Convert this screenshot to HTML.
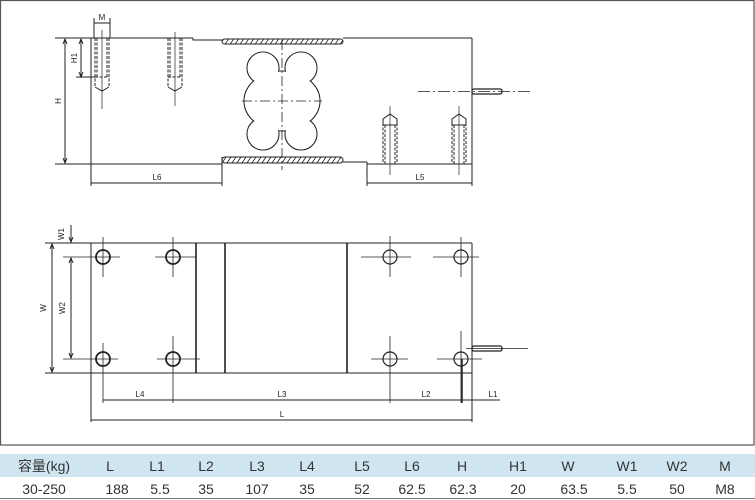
<!DOCTYPE html>
<html><head><meta charset="utf-8"><style>
html,body{margin:0;padding:0;background:#fff}
svg{display:block}
text{font-family:"Liberation Sans","Noto Sans CJK SC",sans-serif}
</style></head><body>
<svg width="755" height="500" viewBox="0 0 755 500" xmlns="http://www.w3.org/2000/svg">
<defs>
<pattern id="h" width="5" height="8" patternUnits="userSpaceOnUse" patternTransform="skewX(-35)">
<rect width="5" height="8" fill="#fff"/><line x1="1" y1="0" x2="1" y2="8" stroke="#222" stroke-width="1"/>
</pattern>
</defs>
<rect x="0.5" y="0.5" width="753.5" height="444.5" fill="#fff" stroke="#555" stroke-width="1.2"/>
<g stroke="#222" stroke-width="1" fill="none">
<!-- TOP VIEW -->
<line x1="55" y1="38" x2="193" y2="38"/>
<polyline points="193,38 193,40 222,40"/>
<line x1="343" y1="38" x2="472" y2="38"/>
<line x1="472" y1="38" x2="472" y2="186"/>
<line x1="55" y1="164" x2="222" y2="164"/>
<line x1="343" y1="162" x2="367" y2="162"/>
<polyline points="367,162 367,164 472,164"/>
<line x1="91" y1="38" x2="91" y2="186"/>
<line x1="222" y1="157" x2="222" y2="186"/>
<line x1="367" y1="164" x2="367" y2="186"/>
<rect x="222" y="39" width="121" height="5" rx="2.5" fill="url(#h)"/>
<rect x="222" y="157" width="121" height="6" rx="3" fill="url(#h)"/>
<!-- flexure -->
<g stroke-width="1.1">
<circle cx="263" cy="68" r="16"/><circle cx="301" cy="68" r="16"/>
<circle cx="263" cy="134" r="16"/><circle cx="301" cy="134" r="16"/>
<ellipse cx="282" cy="101" rx="38" ry="30"/>
</g>
<g fill="#fff" stroke="none">
<circle cx="263" cy="68" r="15.4"/><circle cx="301" cy="68" r="15.4"/>
<circle cx="263" cy="134" r="15.4"/><circle cx="301" cy="134" r="15.4"/>
<ellipse cx="282" cy="101" rx="37.4" ry="29.4"/>
</g>
<line x1="282" y1="40" x2="282" y2="170" stroke-dasharray="10,3,2,3" stroke-width="0.8"/>
<line x1="242" y1="101" x2="322" y2="101" stroke-dasharray="10,3,2,3" stroke-width="0.8"/>
<!-- top bolts -->
<g stroke-dasharray="3,1.5">
<line x1="95" y1="38" x2="95" y2="87"/><line x1="109" y1="38" x2="109" y2="87"/>
<line x1="97" y1="38" x2="97" y2="77"/><line x1="107" y1="38" x2="107" y2="77"/>
<line x1="95" y1="77" x2="109" y2="77"/>
<line x1="168" y1="38" x2="168" y2="87"/><line x1="182" y1="38" x2="182" y2="87"/>
<line x1="170" y1="38" x2="170" y2="77"/><line x1="180" y1="38" x2="180" y2="77"/>
<line x1="168" y1="77" x2="182" y2="77"/>
</g>
<polyline points="95,87 102,91 109,87"/><polyline points="168,87 175,91 182,87"/>
<line x1="102" y1="30" x2="102" y2="109" stroke-width="0.7"/>
<line x1="175" y1="32" x2="175" y2="106" stroke-width="0.7"/>
<!-- bottom bolts right -->
<g stroke-dasharray="3,1.5">
<line x1="383" y1="123" x2="383" y2="164"/><line x1="397" y1="123" x2="397" y2="164"/>
<line x1="385" y1="125" x2="385" y2="164"/><line x1="395" y1="125" x2="395" y2="164"/>
<line x1="452" y1="123" x2="452" y2="164"/><line x1="466" y1="123" x2="466" y2="164"/>
<line x1="454" y1="125" x2="454" y2="164"/><line x1="464" y1="125" x2="464" y2="164"/>
</g>
<polyline points="383,123 383,119 390,114 397,119 397,123"/>
<line x1="383" y1="125" x2="397" y2="125"/>
<polyline points="452,123 452,119 459,114 466,119 466,123"/>
<line x1="452" y1="125" x2="466" y2="125"/>
<line x1="390" y1="106" x2="390" y2="175" stroke-width="0.7"/>
<line x1="459" y1="106" x2="459" y2="175" stroke-width="0.7"/>
<!-- cable -->
<rect x="472" y="89" width="30" height="5" rx="2" stroke-width="1.3"/>
<line x1="418" y1="91.5" x2="532" y2="91.5" stroke-dasharray="12,3,2,3" stroke-width="0.8"/>
<!-- dims top -->
<line x1="65" y1="39" x2="65" y2="163"/>
<polyline points="63,44 65,39 67,44"/><polyline points="63,158 65,163 67,158"/>
<line x1="81" y1="39" x2="81" y2="77"/><line x1="76" y1="77" x2="95" y2="77"/>
<polyline points="79,44 81,39 83,44"/><polyline points="79,72 81,77 83,72"/>
<line x1="94" y1="18" x2="94" y2="38"/><line x1="110" y1="18" x2="110" y2="38"/>
<line x1="94" y1="23" x2="110" y2="23"/>
<line x1="91" y1="183" x2="222" y2="183"/>
<line x1="367" y1="183" x2="472" y2="183"/>
<!-- BOTTOM VIEW -->
<line x1="45" y1="243" x2="472" y2="243"/>
<line x1="45" y1="373" x2="472" y2="373"/>
<line x1="91" y1="243" x2="91" y2="422"/>
<line x1="472" y1="243" x2="472" y2="422"/>
<line x1="196" y1="243" x2="196" y2="373" stroke-width="1.6"/>
<line x1="225" y1="243" x2="225" y2="373" stroke-width="1.6"/>
<line x1="347" y1="243" x2="347" y2="373" stroke-width="1.6"/>
<g stroke-width="1.8">
<circle cx="103" cy="257" r="7"/><circle cx="173" cy="257" r="7"/>
<circle cx="103" cy="359" r="7"/><circle cx="173" cy="359" r="7"/>
</g>
<g stroke-width="1.2">
<circle cx="390" cy="257" r="7"/><circle cx="461" cy="257" r="7"/>
<circle cx="390" cy="359" r="7"/><circle cx="461" cy="359" r="7"/>
</g>
<g stroke-width="0.8">
<line x1="63" y1="257" x2="120" y2="257"/><line x1="103" y1="237" x2="103" y2="277"/>
<line x1="155" y1="257" x2="196" y2="257"/><line x1="173" y1="237" x2="173" y2="277"/>
<line x1="63" y1="359" x2="118" y2="359"/><line x1="103" y1="343" x2="103" y2="403"/>
<line x1="157" y1="359" x2="200" y2="359"/><line x1="173" y1="336" x2="173" y2="403"/>
<line x1="361" y1="257" x2="411" y2="257"/><line x1="390" y1="236" x2="390" y2="277"/>
<line x1="433" y1="257" x2="479" y2="257"/><line x1="461" y1="237" x2="461" y2="277"/>
<line x1="371" y1="359" x2="408" y2="359"/><line x1="390" y1="336" x2="390" y2="403"/>
<line x1="437" y1="359" x2="482" y2="359"/><line x1="461" y1="331" x2="461" y2="403"/>
</g>
<line x1="462" y1="359" x2="462" y2="403" stroke-width="1.5"/>
<rect x="472" y="346" width="30" height="5" rx="2" stroke-width="1.3"/>
<line x1="466" y1="348.5" x2="528" y2="348.5" stroke-width="0.8"/>
<!-- dims bottom -->
<line x1="52" y1="244" x2="52" y2="372"/>
<polyline points="50,249 52,244 54,249"/><polyline points="50,367 52,372 54,367"/>
<line x1="71" y1="258" x2="71" y2="358"/>
<polyline points="69,263 71,258 73,263"/><polyline points="69,353 71,358 73,353"/>
<line x1="71" y1="225" x2="71" y2="242"/>
<polyline points="69,237 71,242 73,237"/>
<line x1="103" y1="400" x2="472" y2="400"/>
<line x1="472" y1="400" x2="500" y2="400"/>
<line x1="91" y1="420" x2="472" y2="420"/>
</g>
<g font-size="8" fill="#222" text-anchor="middle">
<text x="102" y="20">M</text>
<text x="157" y="180">L6</text>
<text x="420" y="180">L5</text>
<text x="140" y="397">L4</text>
<text x="282" y="397">L3</text>
<text x="426" y="397">L2</text>
<text x="493" y="397">L1</text>
<text x="282" y="417">L</text>
<text transform="translate(61,101) rotate(-90)">H</text>
<text transform="translate(77,58) rotate(-90)">H1</text>
<text transform="translate(46,308) rotate(-90)">W</text>
<text transform="translate(65,308) rotate(-90)">W2</text>
<text transform="translate(64,234) rotate(-90)">W1</text>
</g>
<!-- TABLE -->
<rect x="0" y="454" width="755" height="23" fill="#cfe6f1"/>
<line x1="0" y1="498.5" x2="755" y2="498.5" stroke="#777" stroke-width="1"/>
<g font-size="14" fill="#333" text-anchor="middle">
<text x="44" y="471">容量(kg)</text>
<text x="110" y="471">L</text><text x="157" y="471">L1</text><text x="206" y="471">L2</text>
<text x="257" y="471">L3</text><text x="307" y="471">L4</text><text x="362" y="471">L5</text>
<text x="412" y="471">L6</text><text x="462" y="471">H</text><text x="518" y="471">H1</text>
<text x="568" y="471">W</text><text x="627" y="471">W1</text><text x="677" y="471">W2</text>
<text x="725" y="471">M</text>
<text x="44" y="494">30-250</text>
<text x="117" y="494">188</text><text x="160" y="494">5.5</text><text x="206" y="494">35</text>
<text x="257" y="494">107</text><text x="307" y="494">35</text><text x="362" y="494">52</text>
<text x="412" y="494">62.5</text><text x="463" y="494">62.3</text><text x="518" y="494">20</text>
<text x="574" y="494">63.5</text><text x="627" y="494">5.5</text><text x="677" y="494">50</text>
<text x="725" y="494">M8</text>
</g>
</svg>
</body></html>
